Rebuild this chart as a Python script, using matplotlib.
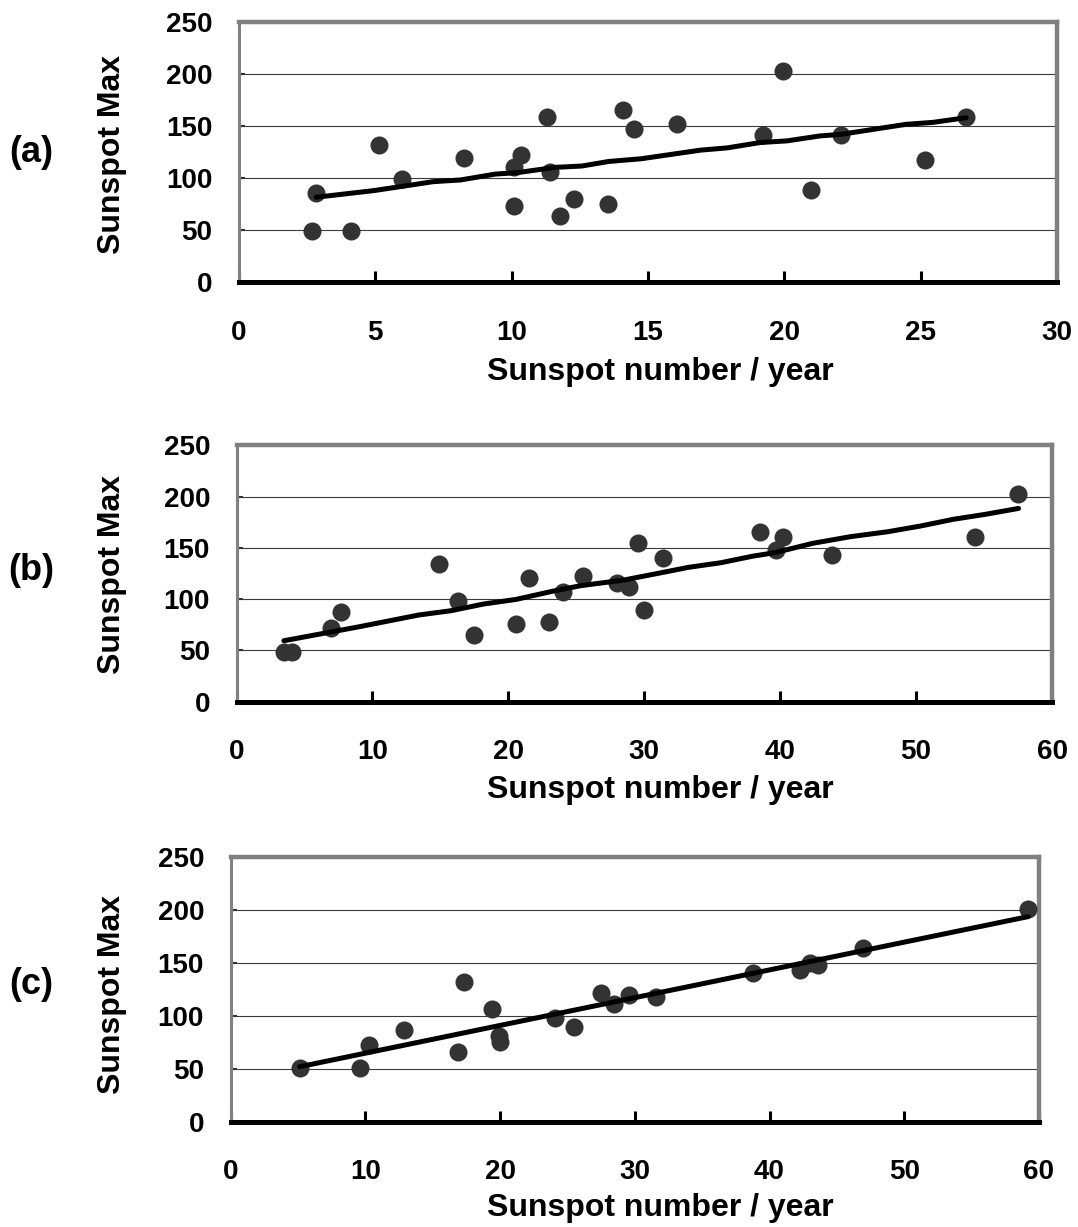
import matplotlib
matplotlib.use("Agg")
import matplotlib.pyplot as plt

# ---- panel (a): sunspot number per year vs cycle maximum ----
a_x = [2.84, 2.68, 4.10, 5.14, 5.99, 8.25, 10.10, 10.36, 10.10, 11.29, 11.39,
       11.79, 12.28, 13.55, 14.07, 14.48, 16.07, 19.20, 19.94, 20.97, 22.06,
       25.16, 26.66]
a_y = [86, 48.7, 48.7, 132, 99, 119, 111, 121.7, 72.6, 158.6, 105.4,
       63.7, 79.6, 75.2, 165, 147.5, 151.6, 141, 203, 88.5, 141,
       117, 158.6]
a_fit_x = [2.83, 4.95, 7.13, 8.12, 9.41, 10.2, 11.58, 12.57, 13.56, 14.75,
           16.93, 17.92, 19.11, 20.1, 21.29, 22.08, 24.46, 25.45, 26.67]
a_fit_y = [81.5, 87.9, 96.5, 98.1, 103.8, 105.1, 110.2, 111.5, 115.9, 118.5,
           126.8, 129.0, 134.1, 135.7, 140.4, 142.0, 151.6, 153.5, 158.0]

# ---- panel (b) ----
b_x = [3.49, 4.09, 6.98, 7.66, 14.9, 16.27, 17.46, 20.6, 21.5, 22.98, 24.0,
       25.5, 28.0, 28.9, 29.56, 30.0, 31.4, 38.5, 39.7, 40.2, 43.85, 54.3, 57.5]
b_y = [48.8, 48.8, 71.5, 87.8, 134.3, 98.5, 65, 75.8, 120.3, 78, 107,
       122.6, 116, 111.5, 154.5, 89.4, 140.5, 165.9, 148, 161, 143, 161, 203]
b_fit_x = [3.49, 7.06, 9.05, 13.41, 15.79, 18.17, 20.56, 23.33, 25.32, 28.49,
           31.27, 33.25, 35.63, 38.02, 39.6, 42.38, 45.16, 47.94, 50.32, 52.7,
           55.08, 57.54]
b_fit_y = [59.5, 68.3, 73.2, 84.6, 88.8, 95.3, 99.8, 108.0, 113.2, 118.7,
           125.9, 131.1, 135.6, 142.1, 145.4, 154.5, 161.0, 165.9, 171.4, 177.9,
           182.8, 188.6]

# ---- panel (c) ----
c_x = [5.13, 9.6, 10.3, 12.9, 16.9, 17.3, 19.4, 19.9, 20.0, 24.1, 25.5,
       27.5, 28.45, 29.6, 31.6, 38.8, 42.3, 43.0, 43.6, 46.95, 59.2]
c_y = [50.5, 50.5, 72.6, 86.8, 65.6, 131.9, 106.6, 81, 75.5, 97.8, 89.3,
       121.5, 111, 119.6, 117.7, 141, 143.5, 150.5, 148.3, 164.7, 201]
c_fit_x = [5.13, 59.2]
c_fit_y = [52, 194]

panel_tags = ["(a)", "(b)", "(c)"]
x_limits = [30, 60, 60]
x_steps = [5, 10, 10]
y_ticks = [0, 50, 100, 150, 200, 250]
x_title = "Sunspot number / year"
y_title = "Sunspot Max"

W, H = 1078, 1227
# axes boxes in pixels: left, right, top, bottom
boxes = [(239, 1057, 22, 282), (236.5, 1052, 445.5, 701.7), (230.5, 1039, 857.4, 1121.7)]
xlabel_y = [372, 790, 1208]
ylabel_y = [155, 574, 995]
tag_y = [152, 570, 985]

plt.rcParams["font.family"] = ["Liberation Sans", "DejaVu Sans"]
plt.rcParams["font.weight"] = "bold"

fig = plt.figure(figsize=(W / 100, H / 100), dpi=100)
fig.patch.set_facecolor("white")

series = [(a_x, a_y, a_fit_x, a_fit_y), (b_x, b_y, b_fit_x, b_fit_y),
          (c_x, c_y, c_fit_x, c_fit_y)]

for i, (xs, ys, fx, fy) in enumerate(series):
    l, r, t, b = boxes[i]
    ax = fig.add_axes([l / W, 1 - b / H, (r - l) / W, (b - t) / H])
    ax.set_xlim(0, x_limits[i])
    ax.set_ylim(0, 250)
    ax.set_xticks(range(0, x_limits[i] + 1, x_steps[i]))
    ax.set_yticks(y_ticks)
    for g in y_ticks[1:-1]:
        ax.axhline(g, color="#3a3a3a", lw=0.8, zorder=1)
    ax.plot(xs, ys, linestyle="none", marker="o", markersize=13,
            markerfacecolor="#333333", markeredgewidth=0, zorder=3,
            clip_on=False)
    ax.plot(fx, fy, color="black", lw=3.6, solid_capstyle="round", zorder=4)

    for side in ("top", "right"):
        ax.spines[side].set_color("#808080")
        ax.spines[side].set_linewidth(3.2)
    ax.spines["left"].set_color("#808080")
    ax.spines["left"].set_linewidth(2.2)
    ax.spines["bottom"].set_color("black")
    ax.spines["bottom"].set_linewidth(3.6)
    ax.spines["bottom"].set_zorder(5)

    ax.tick_params(axis="x", direction="in", length=8, width=2.2, color="black",
                   pad=27, labelsize=20)
    ax.tick_params(axis="y", direction="in", length=4, width=1.5, color="#333333",
                   pad=19, labelsize=20)
    for lab in ax.get_xticklabels() + ax.get_yticklabels():
        lab.set_fontweight("bold")

    ax.set_xlabel(x_title, fontsize=23, fontweight="bold")
    ax.xaxis.set_label_coords(660 / W, 1 - xlabel_y[i] / H, transform=fig.transFigure)
    ax.xaxis.label.set_verticalalignment("center")
    ax.set_ylabel(y_title, fontsize=23, fontweight="bold")
    ax.yaxis.set_label_coords(112 / W, 1 - ylabel_y[i] / H, transform=fig.transFigure)
    ax.yaxis.label.set_verticalalignment("center")

    fig.text(31 / W, 1 - tag_y[i] / H, panel_tags[i], fontsize=26,
             fontweight="bold", ha="center", va="center")

fig.savefig("out.png", dpi=100, facecolor="white")
